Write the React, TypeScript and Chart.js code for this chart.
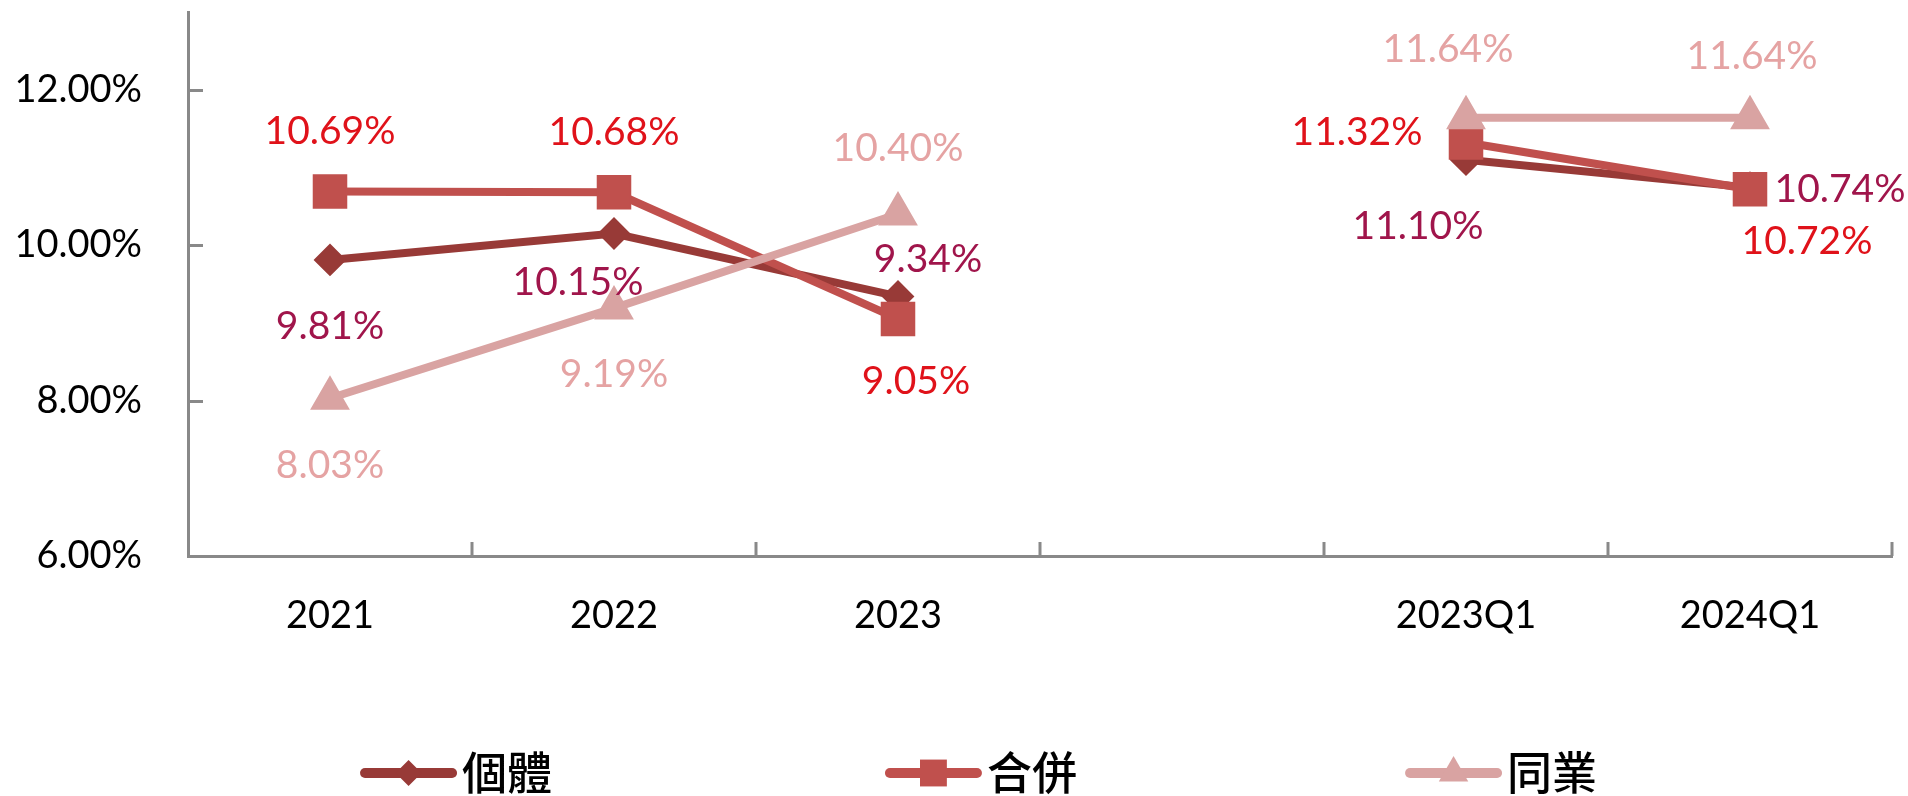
import React, { useEffect, useRef } from "react";
import { Chart, registerables } from "chart.js";

Chart.register(...registerables);

// ---- data ----
const categories = ["2021", "2022", "2023", "", "2023Q1", "2024Q1"];
const seriesNames = ["個體", "合併", "同業"];
const standalone = [9.81, 10.15, 9.34, null, 11.1, 10.74];
const consolidated = [10.69, 10.68, 9.05, null, 11.32, 10.72];
const peers = [8.03, 9.19, 10.4, null, 11.64, 11.64];
const yTickValues = [6, 8, 10, 12];

// ---- styles ----
const lineColors = ["#983A37", "#C0504D", "#D9A3A2"];
const labelColors = ["#A0154B", "#E0121A", "#E5A3A3"];
const pointStyles = ["rectRot", "rect", "triangle"];
const pointRadii = [15, 23, 21];
const legendRadii = [13, 19, 17];
// label offsets in px (dx, dy) relative to each point
const standaloneOffsets = [[0, 67], [-36, 49], [30, -37], [0, 0], [-48, 67], [90, 2]];
const consolidatedOffsets = [[0, -60], [0, -60], [18, 62], [0, 0], [-109, -10], [57, 52]];
const peersOffsets = [[0, 67], [0, 66], [0, -66], [0, 0], [-18, -68], [2, -61]];
const labelOffsets = [standaloneOffsets, consolidatedOffsets, peersOffsets];
const legendXFractions = [0.1887, 0.4638, 0.7364];

const axisColor = "#898989";
const numFont = "Lato, 'Open Sans', sans-serif";
const cjkFont = "'Noto Sans CJK TC', 'Noto Sans CJK SC', sans-serif";

const fmt = (v: number) => v.toFixed(2) + "%";

const customPlugin = {
  id: "custom",
  afterDraw(chart: any) {
    const ctx = chart.ctx;
    const area = chart.chartArea;
    const ys = chart.scales.y;
    ctx.save();
    // inside tick marks
    ctx.strokeStyle = axisColor;
    ctx.lineWidth = 3;
    ctx.beginPath();
    yTickValues.forEach((v) => {
      const y = Math.round(ys.getPixelForValue(v)) + 0.5;
      if (Math.abs(y - area.bottom) < 2) return;
      ctx.moveTo(area.left, y);
      ctx.lineTo(area.left + 15, y);
    });
    const n = categories.length;
    for (let i = 1; i <= n; i++) {
      const x = Math.round(area.left + ((area.right - area.left) * i) / n);
      ctx.moveTo(x, area.bottom);
      ctx.lineTo(x, area.bottom - 14);
    }
    ctx.stroke();

    // data labels
    ctx.font = `39px ${numFont}`;
    ctx.textAlign = "center";
    ctx.textBaseline = "middle";
    chart.data.datasets.forEach((ds: any, di: number) => {
      const meta = chart.getDatasetMeta(di);
      meta.data.forEach((pt: any, i: number) => {
        const v = ds.data[i];
        if (v === null || v === undefined) return;
        const [dx, dy] = labelOffsets[di][i];
        ctx.fillStyle = labelColors[di];
        ctx.fillText(fmt(v), pt.x + dx, pt.y + dy);
      });
    });

    // legend
    const ly = 773;
    seriesNames.forEach((name, i) => {
      const x0 = chart.width * legendXFractions[i];
      const x1 = x0 + 97;
      const cx = (x0 + x1) / 2;
      ctx.strokeStyle = lineColors[i];
      ctx.lineWidth = 10;
      ctx.lineCap = "round";
      ctx.beginPath();
      ctx.moveTo(x0 + 5, ly);
      ctx.lineTo(x1 - 5, ly);
      ctx.stroke();
      ctx.lineCap = "butt";
      ctx.fillStyle = lineColors[i];
      ctx.beginPath();
      const r = legendRadii[i];
      if (pointStyles[i] === "rectRot") {
        ctx.moveTo(cx - r, ly);
        ctx.lineTo(cx, ly - r);
        ctx.lineTo(cx + r, ly);
        ctx.lineTo(cx, ly + r);
      } else if (pointStyles[i] === "rect") {
        const s = r * Math.SQRT1_2;
        ctx.rect(cx - s, ly - s, 2 * s, 2 * s);
      } else {
        ctx.moveTo(cx, ly - r);
        ctx.lineTo(cx + r * 0.866, ly + r / 2);
        ctx.lineTo(cx - r * 0.866, ly + r / 2);
      }
      ctx.closePath();
      ctx.fill();
      ctx.fillStyle = "#000";
      ctx.font = `500 45px ${cjkFont}`;
      ctx.textAlign = "left";
      ctx.textBaseline = "middle";
      ctx.fillText(name, x1 + 5, ly);
    });
    ctx.restore();
  },
};

export default function App() {
  const ref = useRef<HTMLCanvasElement>(null);
  useEffect(() => {
    if (!ref.current) return;
    const allSeries = [standalone, consolidated, peers];
    const chart = new Chart(ref.current, {
      type: "line",
      data: {
        labels: categories,
        datasets: allSeries.map((d, i) => ({
          label: seriesNames[i],
          data: d,
          borderColor: lineColors[i],
          backgroundColor: lineColors[i],
          pointBackgroundColor: lineColors[i],
          pointBorderColor: lineColors[i],
          borderWidth: 8,
          pointStyle: pointStyles[i] as any,
          pointRadius: pointRadii[i],
          pointHoverRadius: pointRadii[i],
          pointBorderWidth: 2,
          spanGaps: false,
          order: 3 - i,
          tension: 0,
          clip: false as any,
        })),
      },
      options: {
        animation: false,
        responsive: true,
        maintainAspectRatio: false,
        layout: { autoPadding: false, padding: { top: 12, right: 16, left: 0, bottom: 0 } },
        plugins: {
          legend: { display: false },
          tooltip: { enabled: false },
        },
        scales: {
          x: {
            type: "category",
            offset: true,
            grid: { display: false, drawTicks: false },
            border: { display: true, color: axisColor, width: 3 },
            ticks: {
              color: "#000",
              font: { family: numFont, size: 38 },
              padding: 37,
              maxRotation: 0,
              autoSkip: false,
            },
            afterFit: (s: any) => {
              s.height = 240;
              s.paddingLeft = 0;
              s.paddingRight = 0;
            },
          },
          y: {
            min: 6,
            max: 13,
            grid: { display: false, drawTicks: true, tickLength: 44 },
            border: { display: true, color: axisColor, width: 3 },
            ticks: {
              stepSize: 2,
              includeBounds: false,
              color: "#000",
              padding: 2,
              font: { family: numFont, size: 38 },
              callback: (v: any) => (yTickValues.includes(Number(v)) ? fmt(Number(v)) : ""),
            },
            afterFit: (s: any) => {
              s.width = 188;
              s.paddingTop = 0;
              s.paddingBottom = 0;
            },
          },
        },
      },
      plugins: [customPlugin],
    });
    return () => chart.destroy();
  }, []);
  return (
    <div style={{ position: "fixed", left: 0, top: 0, width: 1908, height: 796, background: "#fff" }}>
      <canvas ref={ref} />
    </div>
  );
}
